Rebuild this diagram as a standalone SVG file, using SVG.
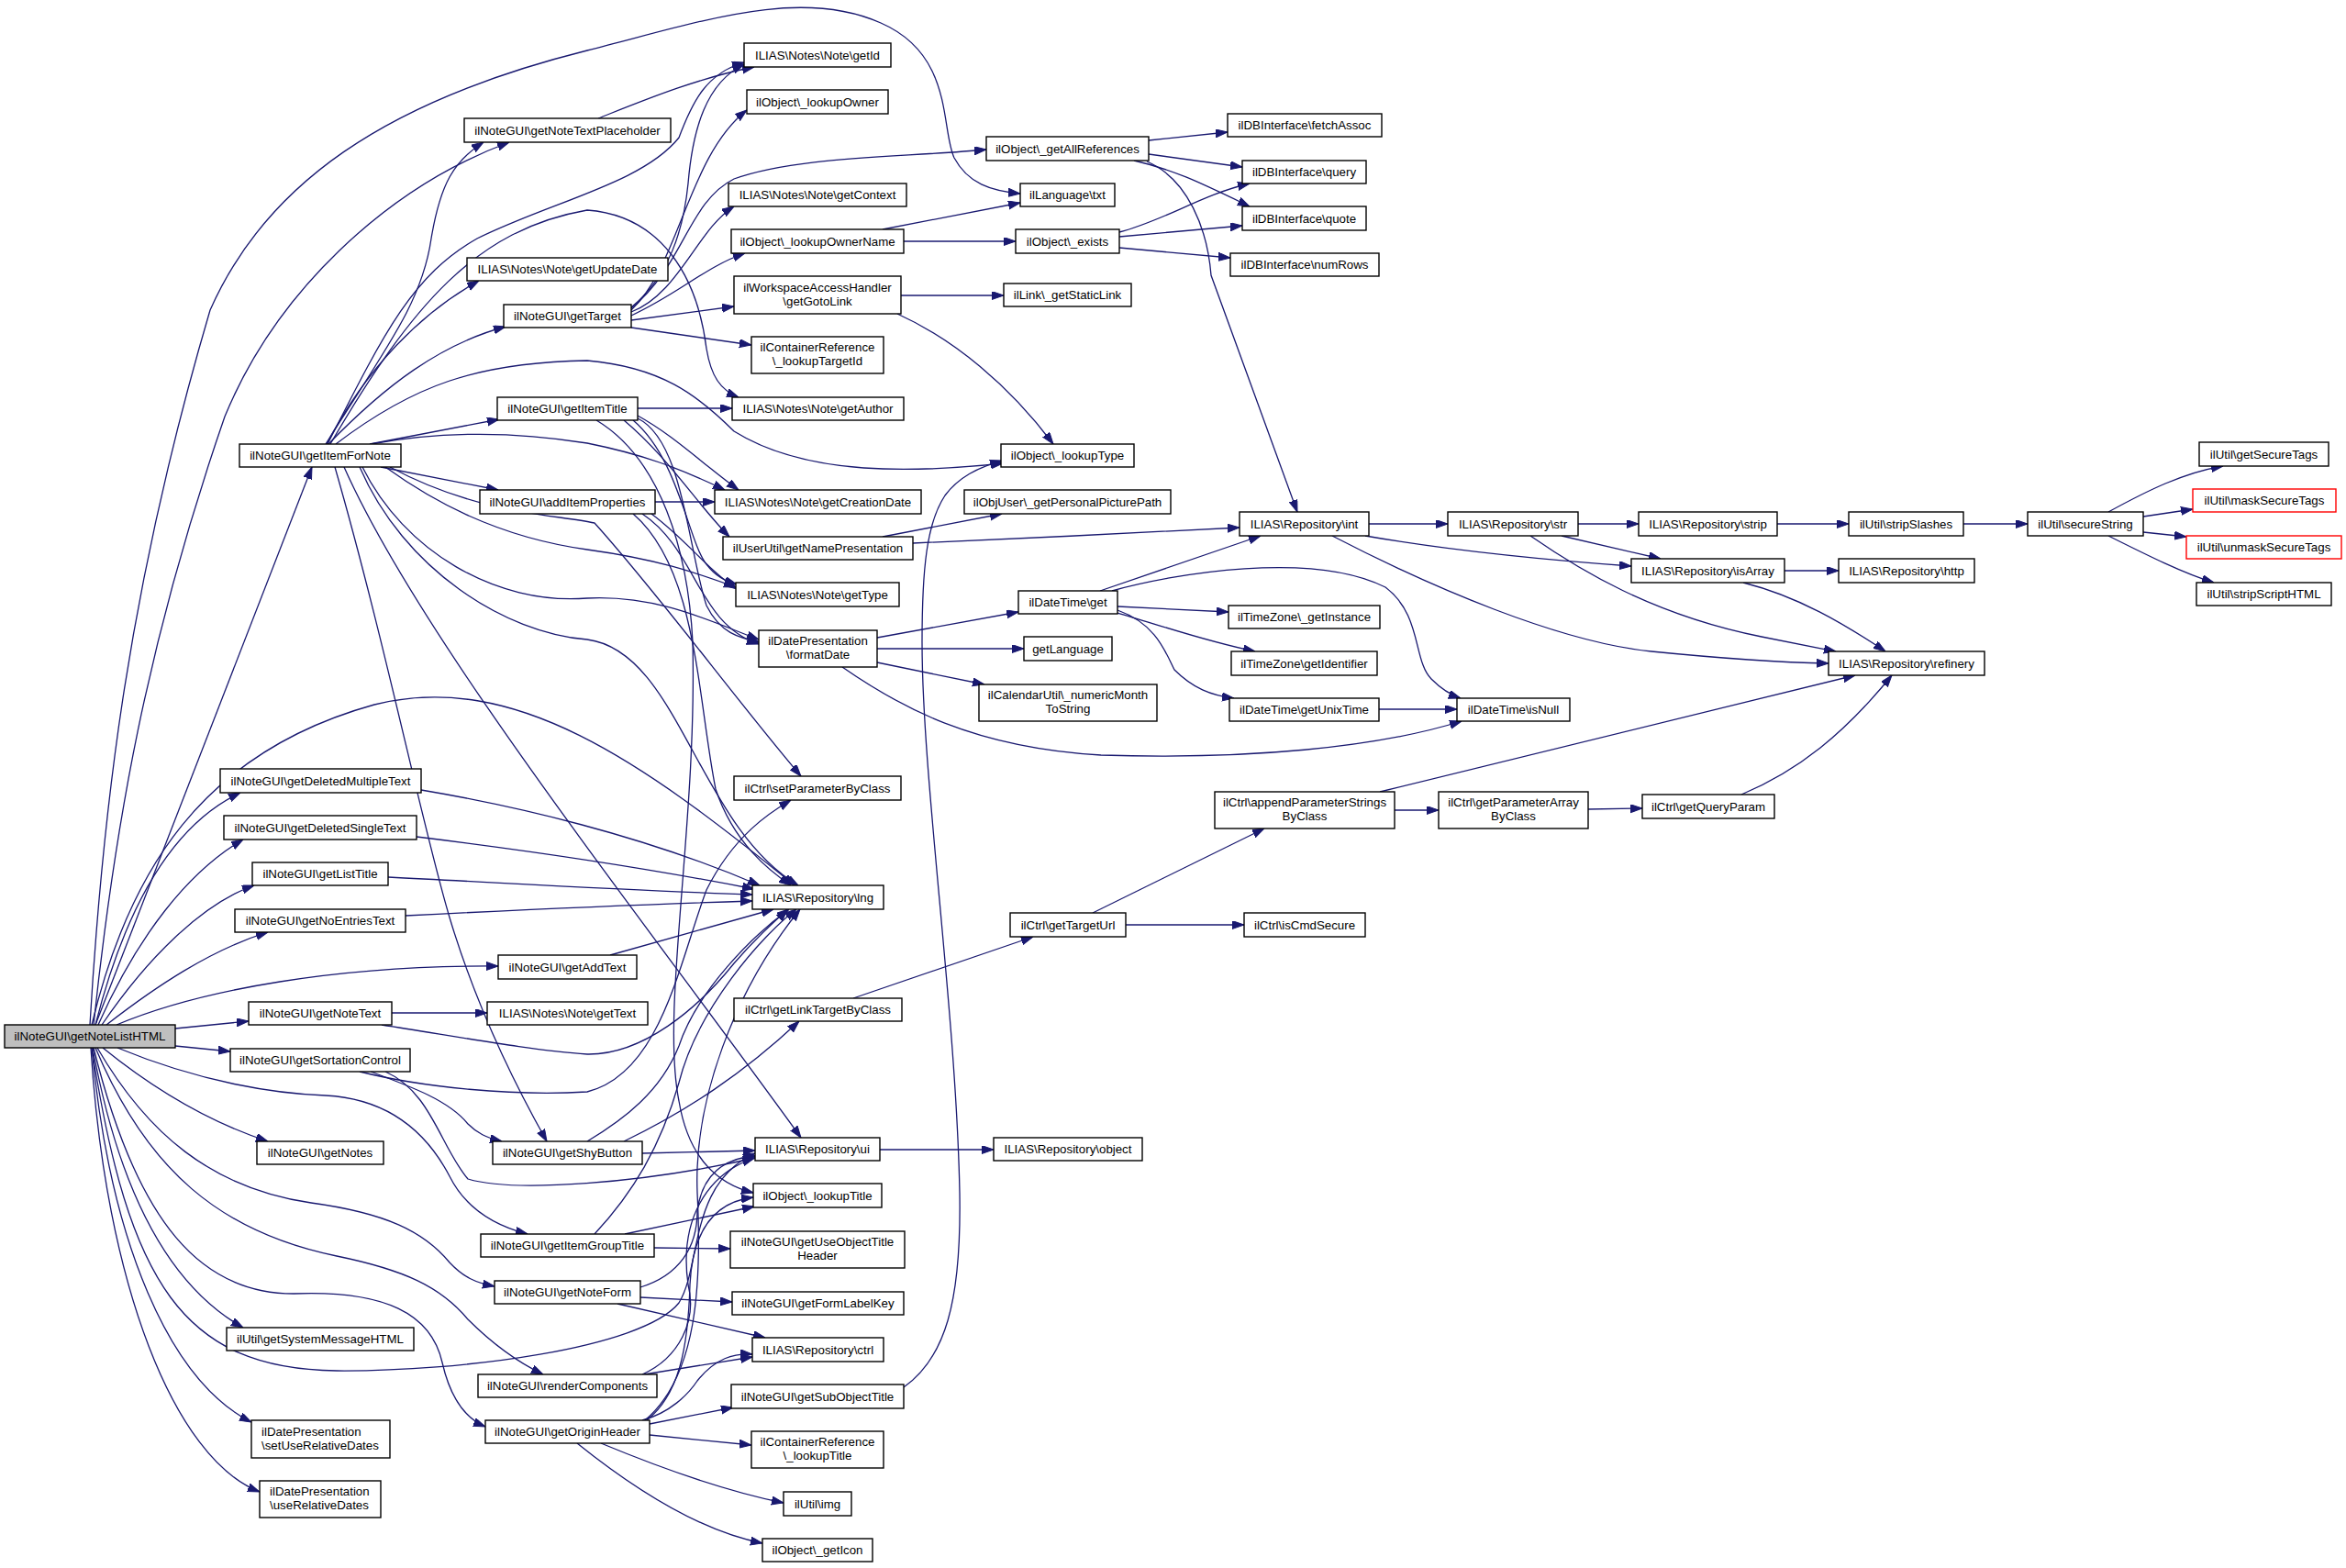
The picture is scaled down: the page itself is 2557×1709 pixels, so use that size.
<svg xmlns="http://www.w3.org/2000/svg" width="2557" height="1709" viewBox="0 0 2557 1709">
<defs>
<marker id="a" markerUnits="userSpaceOnUse" markerWidth="13" markerHeight="10" refX="13" refY="4.5" orient="auto"><path d="M0,0 L13,4.5 L0,9 z" fill="#191970" stroke="#191970" stroke-width="1"/></marker>
<style>
.node rect{fill:#fff;stroke:#000;stroke-width:1.4}
.node.root rect{fill:#bfbfbf}
.node.red rect{stroke:#ff0000}
.node text{font-family:"Liberation Sans",Arial,Helvetica,sans-serif;font-size:13.3px;text-anchor:middle;fill:#000}
.node text.l{text-anchor:start}
#edges path{fill:none;stroke:#191970;stroke-width:1.3;marker-end:url(#a)}
</style>
</defs>
<rect width="2557" height="1709" fill="#fff"/>
<g id="edges">
<path d="M98,1117 C112,880 140,640 229,338 C290,200 420,110 640,55 C760,25 870,-15 960,25 C1040,60 1025,140 1040,172 C1055,200 1080,208 1112,211"/>
<path d="M102,1117 C125,900 160,700 245,454 C300,320 420,205 555,155"/>
<path d="M104,1117 L340,509"/>
<path d="M100,1117 C140,950 220,820 408,768 C560,730 700,830 866,965"/>
<path d="M104,1117 C135,995 185,900 262,864"/>
<path d="M107,1117 C150,1020 205,950 265,915"/>
<path d="M111,1117 C160,1045 220,985 277,965"/>
<path d="M116,1117 C170,1075 230,1035 292,1016"/>
<path d="M127,1117 C220,1078 370,1052 543,1053"/>
<path d="M191,1121 L271,1113"/>
<path d="M191,1140 L251,1146"/>
<path d="M112,1142 C165,1185 225,1222 292,1244"/>
<path d="M128,1142 C220,1180 300,1192 355,1194 C430,1198 468,1240 490,1282 C508,1318 540,1336 575,1345"/>
<path d="M106,1142 C160,1235 230,1295 339,1311 C420,1322 462,1342 490,1376 C505,1392 518,1398 539,1402"/>
<path d="M104,1142 C160,1275 240,1343 367,1369 C440,1384 480,1402 510,1438 C540,1468 565,1485 592,1498"/>
<path d="M102,1142 C150,1335 220,1410 320,1410 C420,1406 470,1432 482,1485 C490,1520 505,1545 529,1555"/>
<path d="M100,1142 C140,1400 200,1492 367,1494 C500,1495 700,1470 740,1420 C765,1380 750,1290 823,1257"/>
<path d="M101,1142 C130,1300 185,1402 265,1447"/>
<path d="M100,1142 C120,1355 185,1505 274,1550"/>
<path d="M99,1142 C115,1400 190,1590 283,1626"/>
<path d="M355,484 C420,380 460,330 470,260 C480,200 495,175 527,155"/>
<path d="M357,484 C420,360 450,300 520,260 C600,220 700,200 740,150 C755,110 770,80 811,68"/>
<path d="M356,484 C400,400 460,340 522,306"/>
<path d="M358,484 C420,420 480,375 551,356"/>
<path d="M403,484 L544,457"/>
<path d="M415,509 L543,534"/>
<path d="M360,484 C450,330 520,250 640,229 C720,235 760,300 770,380 C775,410 785,425 805,433"/>
<path d="M366,484 C450,420 520,395 640,393 C720,400 760,430 800,470 C880,520 1000,515 1093,505"/>
<path d="M404,484 C480,470 560,470 640,483 C700,495 740,510 790,534"/>
<path d="M420,509 C470,545 540,585 640,599 C720,610 760,625 802,640"/>
<path d="M395,509 C440,600 540,660 640,652 C720,648 780,680 827,697"/>
<path d="M392,509 C440,620 550,690 640,697 C740,710 760,900 870,965"/>
<path d="M425,509 C520,560 600,560 648,570 C720,650 800,760 873,846"/>
<path d="M375,509 C460,700 700,1000 873,1240"/>
<path d="M365,509 C420,700 460,900 490,1000 C520,1100 560,1180 596,1244"/>
<path d="M688,335 C730,300 745,250 750,200 C755,140 770,90 811,70"/>
<path d="M688,338 C740,290 750,170 814,120"/>
<path d="M688,336 C745,290 750,220 800,195 C870,170 980,172 1075,163"/>
<path d="M688,340 C740,320 760,250 800,225"/>
<path d="M688,344 C740,320 770,290 812,276"/>
<path d="M688,349 L800,334"/>
<path d="M688,357 L819,376"/>
<path d="M695,445 L798,445"/>
<path d="M695,453 C735,475 765,505 805,534"/>
<path d="M680,458 C730,500 760,550 795,585"/>
<path d="M690,458 C740,500 750,590 770,615 C780,628 790,633 803,637"/>
<path d="M695,456 C745,480 750,600 770,660 C785,690 805,695 828,700"/>
<path d="M650,458 C720,500 750,600 755,700 C760,900 720,1100 740,1200 C750,1260 780,1290 821,1300"/>
<path d="M714,547 L779,547"/>
<path d="M700,560 C760,600 760,680 827,702"/>
<path d="M690,560 C760,620 760,760 780,860 C800,920 840,950 862,965"/>
<path d="M710,560 C750,590 770,620 803,642"/>
<path d="M652,129 C700,110 760,85 822,73"/>
<path d="M1252,153 L1338,144"/>
<path d="M1252,168 L1354,182"/>
<path d="M1236,175 C1280,185 1310,200 1362,225"/>
<path d="M1250,176 C1295,195 1316,250 1320,300 L1414,558"/>
<path d="M1220,253 C1270,240 1310,212 1362,200"/>
<path d="M1220,258 L1354,246"/>
<path d="M1220,270 L1341,281"/>
<path d="M985,263 L1107,263"/>
<path d="M962,250 L1112,221"/>
<path d="M982,322 L1094,322"/>
<path d="M978,342 C1040,370 1100,420 1148,484"/>
<path d="M962,585 L1092,560"/>
<path d="M995,592 C1100,588 1250,580 1351,575"/>
<path d="M956,695 L1110,667"/>
<path d="M956,707 L1116,707"/>
<path d="M956,722 L1073,746"/>
<path d="M918,727 C980,770 1060,815 1200,823 C1360,828 1500,815 1593,786"/>
<path d="M1199,644 L1374,584"/>
<path d="M1218,661 L1339,667"/>
<path d="M1218,668 C1260,680 1310,698 1368,710"/>
<path d="M1218,665 C1260,680 1270,710 1280,730 C1300,750 1320,758 1345,761"/>
<path d="M1212,644 C1280,625 1430,600 1510,640 C1550,670 1540,720 1560,740 C1570,750 1580,757 1592,761"/>
<path d="M1503,773 L1588,773"/>
<path d="M1492,571 L1578,571"/>
<path d="M1488,584 C1580,600 1680,610 1778,617"/>
<path d="M1452,584 C1560,640 1700,700 1800,710 C1880,718 1940,722 1993,723"/>
<path d="M1720,571 L1786,571"/>
<path d="M1702,584 L1810,609"/>
<path d="M1668,584 C1720,620 1800,670 1920,694 C1950,700 1975,705 2001,710"/>
<path d="M1937,571 L2015,571"/>
<path d="M2140,571 L2210,571"/>
<path d="M2298,558 C2340,535 2380,515 2423,508"/>
<path d="M2336,563 L2390,555"/>
<path d="M2336,580 L2383,585"/>
<path d="M2298,584 C2340,605 2380,625 2413,635"/>
<path d="M1945,622 L2004,622"/>
<path d="M1900,635 C1960,650 2010,680 2055,710"/>
<path d="M1504,863 L2022,736"/>
<path d="M1520,883 L1568,883"/>
<path d="M1731,882 L1790,881"/>
<path d="M1898,866 C1960,840 2010,800 2062,736"/>
<path d="M1191,995 L1378,903"/>
<path d="M1227,1008 L1356,1008"/>
<path d="M930,1088 L1126,1021"/>
<path d="M959,1253 L1083,1253"/>
<path d="M985,1512 C1030,1480 1048,1420 1046,1300 C1042,1100 1005,850 1005,700 C1005,620 1010,570 1030,540 C1045,520 1065,510 1092,502"/>
<path d="M404,1168 C450,1185 490,1200 510,1225 C520,1235 530,1240 547,1244"/>
<path d="M420,1168 C470,1190 480,1250 510,1285 C560,1300 700,1290 823,1262"/>
<path d="M392,1168 C460,1185 560,1195 640,1190 C720,1170 740,1050 770,970 C800,910 840,885 862,872"/>
<path d="M700,1257 L823,1254"/>
<path d="M680,1244 C750,1210 810,1170 871,1113"/>
<path d="M640,1244 C680,1220 720,1190 740,1140 C760,1080 820,1020 860,991"/>
<path d="M681,1345 L822,1315"/>
<path d="M713,1360 L796,1361"/>
<path d="M648,1345 C690,1300 720,1250 740,1180 C760,1100 830,1020 868,991"/>
<path d="M698,1403 C740,1390 760,1360 760,1320 C765,1280 790,1262 823,1260"/>
<path d="M698,1414 L798,1419"/>
<path d="M673,1421 L834,1458"/>
<path d="M702,1498 L820,1479"/>
<path d="M700,1498 C740,1480 760,1440 750,1400 C740,1330 770,1280 822,1262"/>
<path d="M700,1548 C730,1540 750,1520 760,1505 C780,1480 800,1475 820,1476"/>
<path d="M705,1548 C740,1520 750,1470 752,1400 C755,1340 780,1310 821,1305"/>
<path d="M708,1552 L799,1534"/>
<path d="M708,1564 L819,1575"/>
<path d="M655,1573 C720,1600 790,1625 854,1638"/>
<path d="M629,1573 C700,1630 770,1670 831,1682"/>
<path d="M703,1548 C760,1500 765,1400 760,1300 C756,1200 800,1080 872,991"/>
<path d="M427,1104 L531,1104"/>
<path d="M416,1117 C500,1130 580,1145 640,1149 C700,1150 760,1100 800,1050 C830,1015 850,1000 858,991"/>
<path d="M459,861 C560,878 700,910 828,965"/>
<path d="M454,912 C560,925 700,945 822,969"/>
<path d="M423,956 C600,965 720,972 820,975"/>
<path d="M442,998 C600,990 720,985 820,982"/>
<path d="M665,1041 L843,991"/>
</g>
<g id="n0" class="node root"><rect x="5" y="1117" width="186" height="25"/><text x="98" y="1134">ilNoteGUI\getNoteListHTML</text></g>
<g id="n1" class="node"><rect x="506" y="129" width="225" height="26"/><text x="618.5" y="146.5">ilNoteGUI\getNoteTextPlaceholder</text></g>
<g id="n2" class="node"><rect x="509" y="281" width="219" height="25"/><text x="618.5" y="298">ILIAS\Notes\Note\getUpdateDate</text></g>
<g id="n3" class="node"><rect x="549" y="332" width="139" height="25"/><text x="618.5" y="349">ilNoteGUI\getTarget</text></g>
<g id="n4" class="node"><rect x="542" y="433" width="153" height="25"/><text x="618.5" y="450">ilNoteGUI\getItemTitle</text></g>
<g id="n5" class="node"><rect x="261" y="484" width="176" height="25"/><text x="349" y="501">ilNoteGUI\getItemForNote</text></g>
<g id="n6" class="node"><rect x="523" y="534" width="191" height="26"/><text x="618.5" y="551.5">ilNoteGUI\addItemProperties</text></g>
<g id="n7" class="node"><rect x="811" y="47" width="160" height="26"/><text x="891" y="64.5">ILIAS\Notes\Note\getId</text></g>
<g id="n8" class="node"><rect x="814" y="98" width="154" height="26"/><text x="891" y="115.5">ilObject\_lookupOwner</text></g>
<g id="n9" class="node"><rect x="1075" y="149" width="177" height="26"/><text x="1163.5" y="166.5">ilObject\_getAllReferences</text></g>
<g id="n10" class="node"><rect x="794" y="200" width="194" height="25"/><text x="891" y="217">ILIAS\Notes\Note\getContext</text></g>
<g id="n11" class="node"><rect x="1112" y="200" width="103" height="25"/><text x="1163.5" y="217">ilLanguage\txt</text></g>
<g id="n12" class="node"><rect x="797" y="250" width="188" height="26"/><text x="891" y="267.5">ilObject\_lookupOwnerName</text></g>
<g id="n13" class="node"><rect x="1107" y="250" width="113" height="26"/><text x="1163.5" y="267.5">ilObject\_exists</text></g>
<g id="n14" class="node"><rect x="800" y="301" width="182" height="41"/><text x="891" y="317.5">ilWorkspaceAccessHandler</text><text x="891" y="332.5">\getGotoLink</text></g>
<g id="n15" class="node"><rect x="1094" y="309" width="139" height="25"/><text x="1163.5" y="326">ilLink\_getStaticLink</text></g>
<g id="n16" class="node"><rect x="819" y="367" width="144" height="40"/><text x="891" y="383">ilContainerReference</text><text x="891" y="398">\_lookupTargetId</text></g>
<g id="n17" class="node"><rect x="798" y="433" width="187" height="25"/><text x="891.5" y="450">ILIAS\Notes\Note\getAuthor</text></g>
<g id="n18" class="node"><rect x="1091" y="484" width="145" height="25"/><text x="1163.5" y="501">ilObject\_lookupType</text></g>
<g id="n19" class="node"><rect x="779" y="534" width="225" height="26"/><text x="891.5" y="551.5">ILIAS\Notes\Note\getCreationDate</text></g>
<g id="n20" class="node"><rect x="1051" y="534" width="225" height="26"/><text x="1163.5" y="551.5">ilObjUser\_getPersonalPicturePath</text></g>
<g id="n21" class="node"><rect x="1338" y="124" width="168" height="25"/><text x="1422" y="141">ilDBInterface\fetchAssoc</text></g>
<g id="n22" class="node"><rect x="1354" y="175" width="135" height="25"/><text x="1421.5" y="192">ilDBInterface\query</text></g>
<g id="n23" class="node"><rect x="1354" y="225" width="135" height="26"/><text x="1421.5" y="242.5">ilDBInterface\quote</text></g>
<g id="n24" class="node"><rect x="1341" y="276" width="162" height="25"/><text x="1422" y="293">ilDBInterface\numRows</text></g>
<g id="n25" class="node"><rect x="1351" y="558" width="141" height="26"/><text x="1421.5" y="575.5">ILIAS\Repository\int</text></g>
<g id="n26" class="node"><rect x="1578" y="558" width="142" height="26"/><text x="1649" y="575.5">ILIAS\Repository\str</text></g>
<g id="n27" class="node"><rect x="1786" y="558" width="151" height="26"/><text x="1861.5" y="575.5">ILIAS\Repository\strip</text></g>
<g id="n28" class="node"><rect x="2015" y="558" width="125" height="26"/><text x="2077.5" y="575.5">ilUtil\stripSlashes</text></g>
<g id="n29" class="node"><rect x="2210" y="558" width="126" height="26"/><text x="2273" y="575.5">ilUtil\secureString</text></g>
<g id="n30" class="node"><rect x="2397" y="482" width="141" height="26"/><text x="2467.5" y="499.5">ilUtil\getSecureTags</text></g>
<g id="n31" class="node red"><rect x="2390" y="533" width="156" height="25"/><text x="2468" y="550">ilUtil\maskSecureTags</text></g>
<g id="n32" class="node red"><rect x="2383" y="584" width="169" height="25"/><text x="2467.5" y="601">ilUtil\unmaskSecureTags</text></g>
<g id="n33" class="node"><rect x="2394" y="635" width="147" height="25"/><text x="2467.5" y="652">ilUtil\stripScriptHTML</text></g>
<g id="n34" class="node"><rect x="1778" y="609" width="167" height="26"/><text x="1861.5" y="626.5">ILIAS\Repository\isArray</text></g>
<g id="n35" class="node"><rect x="2004" y="609" width="148" height="26"/><text x="2078" y="626.5">ILIAS\Repository\http</text></g>
<g id="n36" class="node"><rect x="1993" y="710" width="170" height="26"/><text x="2078" y="727.5">ILIAS\Repository\refinery</text></g>
<g id="n37" class="node"><rect x="788" y="585" width="207" height="25"/><text x="891.5" y="602">ilUserUtil\getNamePresentation</text></g>
<g id="n38" class="node"><rect x="802" y="635" width="178" height="26"/><text x="891" y="652.5">ILIAS\Notes\Note\getType</text></g>
<g id="n39" class="node"><rect x="827" y="687" width="129" height="40"/><text x="891.5" y="703">ilDatePresentation</text><text x="891.5" y="718">\formatDate</text></g>
<g id="n40" class="node"><rect x="1110" y="644" width="108" height="25"/><text x="1164" y="661">ilDateTime\get</text></g>
<g id="n41" class="node"><rect x="1116" y="694" width="96" height="26"/><text x="1164" y="711.5">getLanguage</text></g>
<g id="n42" class="node"><rect x="1067" y="746" width="194" height="40"/><text x="1164" y="762">ilCalendarUtil\_numericMonth</text><text x="1164" y="777">ToString</text></g>
<g id="n43" class="node"><rect x="1339" y="660" width="165" height="25"/><text x="1421.5" y="677">ilTimeZone\_getInstance</text></g>
<g id="n44" class="node"><rect x="1342" y="710" width="159" height="26"/><text x="1421.5" y="727.5">ilTimeZone\getIdentifier</text></g>
<g id="n45" class="node"><rect x="1340" y="761" width="163" height="25"/><text x="1421.5" y="778">ilDateTime\getUnixTime</text></g>
<g id="n46" class="node"><rect x="1588" y="761" width="123" height="25"/><text x="1649.5" y="778">ilDateTime\isNull</text></g>
<g id="n47" class="node"><rect x="800" y="846" width="182" height="26"/><text x="891" y="863.5">ilCtrl\setParameterByClass</text></g>
<g id="n48" class="node"><rect x="820" y="965" width="143" height="26"/><text x="891.5" y="982.5">ILIAS\Repository\lng</text></g>
<g id="n49" class="node"><rect x="1324" y="863" width="196" height="40"/><text x="1422" y="879">ilCtrl\appendParameterStrings</text><text x="1422" y="894">ByClass</text></g>
<g id="n50" class="node"><rect x="1568" y="863" width="163" height="40"/><text x="1649.5" y="879">ilCtrl\getParameterArray</text><text x="1649.5" y="894">ByClass</text></g>
<g id="n51" class="node"><rect x="1790" y="866" width="144" height="26"/><text x="1862" y="883.5">ilCtrl\getQueryParam</text></g>
<g id="n52" class="node"><rect x="1101" y="995" width="126" height="26"/><text x="1164" y="1012.5">ilCtrl\getTargetUrl</text></g>
<g id="n53" class="node"><rect x="1356" y="995" width="132" height="26"/><text x="1422" y="1012.5">ilCtrl\isCmdSecure</text></g>
<g id="n54" class="node"><rect x="800" y="1088" width="183" height="25"/><text x="891.5" y="1105">ilCtrl\getLinkTargetByClass</text></g>
<g id="n55" class="node"><rect x="240" y="838" width="219" height="26"/><text x="349.5" y="855.5">ilNoteGUI\getDeletedMultipleText</text></g>
<g id="n56" class="node"><rect x="244" y="889" width="210" height="26"/><text x="349" y="906.5">ilNoteGUI\getDeletedSingleText</text></g>
<g id="n57" class="node"><rect x="275" y="940" width="148" height="25"/><text x="349" y="957">ilNoteGUI\getListTitle</text></g>
<g id="n58" class="node"><rect x="256" y="991" width="186" height="25"/><text x="349" y="1008">ilNoteGUI\getNoEntriesText</text></g>
<g id="n59" class="node"><rect x="543" y="1041" width="151" height="26"/><text x="618.5" y="1058.5">ilNoteGUI\getAddText</text></g>
<g id="n60" class="node"><rect x="271" y="1092" width="156" height="25"/><text x="349" y="1109">ilNoteGUI\getNoteText</text></g>
<g id="n61" class="node"><rect x="531" y="1092" width="175" height="25"/><text x="618.5" y="1109">ILIAS\Notes\Note\getText</text></g>
<g id="n62" class="node"><rect x="251" y="1143" width="196" height="25"/><text x="349" y="1160">ilNoteGUI\getSortationControl</text></g>
<g id="n63" class="node"><rect x="280" y="1244" width="138" height="25"/><text x="349" y="1261">ilNoteGUI\getNotes</text></g>
<g id="n64" class="node"><rect x="537" y="1244" width="163" height="25"/><text x="618.5" y="1261">ilNoteGUI\getShyButton</text></g>
<g id="n65" class="node"><rect x="524" y="1345" width="189" height="25"/><text x="618.5" y="1362">ilNoteGUI\getItemGroupTitle</text></g>
<g id="n66" class="node"><rect x="539" y="1396" width="159" height="25"/><text x="618.5" y="1413">ilNoteGUI\getNoteForm</text></g>
<g id="n67" class="node"><rect x="247" y="1447" width="204" height="25"/><text x="349" y="1464">ilUtil\getSystemMessageHTML</text></g>
<g id="n68" class="node"><rect x="521" y="1498" width="195" height="25"/><text x="618.5" y="1515">ilNoteGUI\renderComponents</text></g>
<g id="n69" class="node"><rect x="529" y="1548" width="179" height="25"/><text x="618.5" y="1565">ilNoteGUI\getOriginHeader</text></g>
<g id="n70" class="node"><rect x="274" y="1548" width="151" height="41"/><text class="l" x="285" y="1564.5">ilDatePresentation</text><text class="l" x="285" y="1579.5">\setUseRelativeDates</text></g>
<g id="n71" class="node"><rect x="283" y="1614" width="132" height="40"/><text class="l" x="294" y="1630">ilDatePresentation</text><text class="l" x="294" y="1645">\useRelativeDates</text></g>
<g id="n72" class="node"><rect x="823" y="1240" width="136" height="25"/><text x="891" y="1257">ILIAS\Repository\ui</text></g>
<g id="n73" class="node"><rect x="1083" y="1240" width="162" height="25"/><text x="1164" y="1257">ILIAS\Repository\object</text></g>
<g id="n74" class="node"><rect x="821" y="1290" width="140" height="26"/><text x="891" y="1307.5">ilObject\_lookupTitle</text></g>
<g id="n75" class="node"><rect x="796" y="1342" width="190" height="40"/><text x="891" y="1358">ilNoteGUI\getUseObjectTitle</text><text x="891" y="1373">Header</text></g>
<g id="n76" class="node"><rect x="798" y="1408" width="187" height="25"/><text x="891.5" y="1425">ilNoteGUI\getFormLabelKey</text></g>
<g id="n77" class="node"><rect x="820" y="1458" width="143" height="26"/><text x="891.5" y="1475.5">ILIAS\Repository\ctrl</text></g>
<g id="n78" class="node"><rect x="797" y="1509" width="188" height="26"/><text x="891" y="1526.5">ilNoteGUI\getSubObjectTitle</text></g>
<g id="n79" class="node"><rect x="819" y="1560" width="144" height="40"/><text x="891" y="1576">ilContainerReference</text><text x="891" y="1591">\_lookupTitle</text></g>
<g id="n80" class="node"><rect x="854" y="1626" width="74" height="26"/><text x="891" y="1643.5">ilUtil\img</text></g>
<g id="n81" class="node"><rect x="831" y="1677" width="120" height="25"/><text x="891" y="1694">ilObject\_getIcon</text></g>
</svg>
